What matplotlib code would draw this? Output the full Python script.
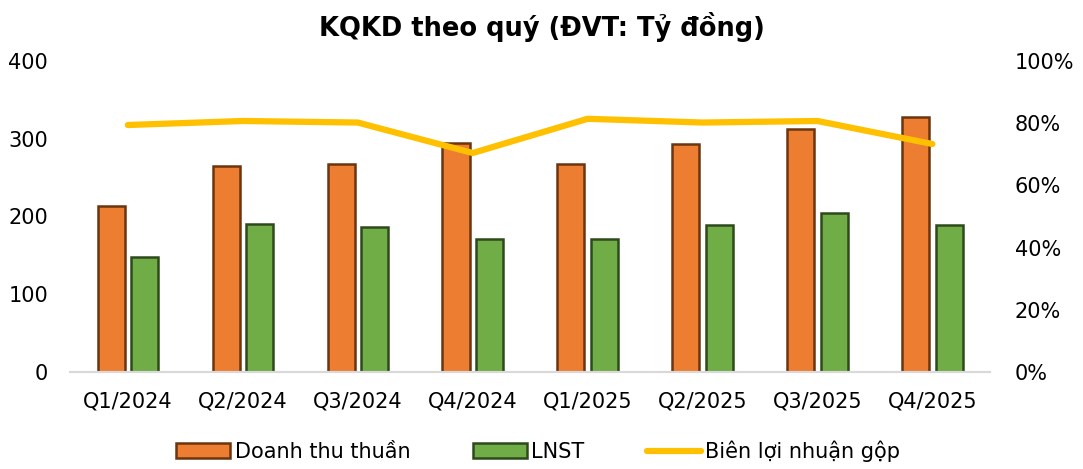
import matplotlib
matplotlib.use("Agg")
from matplotlib import pyplot as plt
from matplotlib.ticker import FuncFormatter
import numpy as np

quarters = ["Q1/2024", "Q2/2024", "Q3/2024", "Q4/2024",
            "Q1/2025", "Q2/2025", "Q3/2025", "Q4/2025"]
doanh_thu = [213, 265, 267, 294, 267, 293, 312, 328]
lnst = [148, 190, 186, 171, 171, 189, 204, 189]
bien_ln = [79.4, 80.7, 80.2, 70.4, 81.4, 80.2, 80.7, 73.3]

plt.rcParams['font.family'] = ['DejaVu Sans']

fig = plt.figure(figsize=(10.83, 4.69), dpi=100)
ax = fig.add_axes([0.065, 0.207, 0.849, 0.663])
ax2 = ax.twinx()

x = np.arange(len(quarters))
w = 0.235
b1 = ax.bar(x - 0.145, doanh_thu, w, color="#ED7D31", edgecolor="#6B3510",
            linewidth=1.8, label="Doanh thu thuần", zorder=2)
b2 = ax.bar(x + 0.145, lnst, w, color="#70AD47", edgecolor="#2E4A1C",
            linewidth=1.8, label="LNST", zorder=2)
l1, = ax2.plot(x, bien_ln, color="#FFC000", linewidth=4.5,
               solid_capstyle="round", label="Biên lợi nhuận gộp", zorder=3)

ax.set_xlim(-0.5, len(quarters) - 0.5)
ax.set_ylim(0, 400)
ax.set_yticks([0, 100, 200, 300, 400])
ax2.set_ylim(0, 100)
ax2.set_yticks([0, 20, 40, 60, 80, 100])
ax2.yaxis.set_major_formatter(FuncFormatter(lambda v, p: "%d%%" % v))
ax.set_xticks(x)
ax.set_xticklabels(quarters)

for a in (ax, ax2):
    for s in ("top", "left", "right"):
        a.spines[s].set_visible(False)
    a.spines["bottom"].set_color("#D9D9D9")
    a.spines["bottom"].set_linewidth(1.5)
    a.tick_params(length=0, labelsize=15, colors="#000000")
ax.tick_params(axis="x", pad=14)
ax.tick_params(axis="y", pad=16)
ax2.tick_params(axis="y", pad=18)

# make the line sit above bars
ax.set_zorder(1)
ax2.set_zorder(2)
ax.patch.set_visible(False)

fig.suptitle("KQKD theo quý (ĐVT: Tỷ đồng)", fontsize=18.5, fontweight="bold",
             y=0.975)
fig.legend([b1, b2, l1], [b.get_label() for b in (b1, b2, l1)],
           loc="lower center", bbox_to_anchor=(0.497, -0.025), ncol=3,
           frameon=False, fontsize=15, handlelength=2.6, handletextpad=0.2,
           columnspacing=3.0)

plt.savefig("out.png", dpi=100)
